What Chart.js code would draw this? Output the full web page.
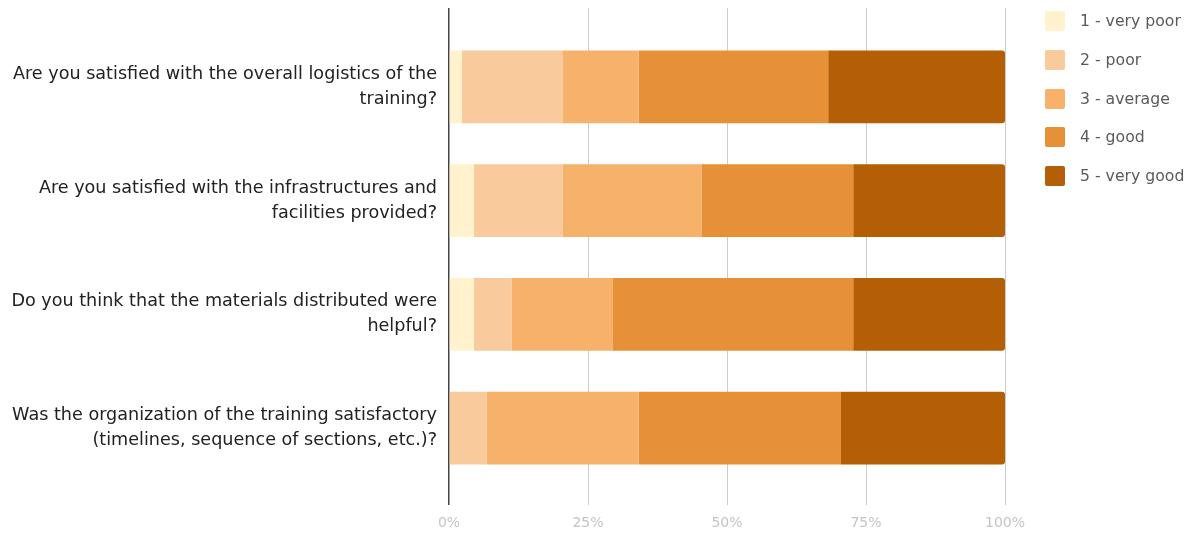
<!DOCTYPE html>
<html>
<head>
<meta charset="utf-8">
<script src="https://cdn.jsdelivr.net/npm/chart.js@4/dist/chart.umd.min.js"></script>
<style>
  html, body { margin: 0; padding: 0; background: #fff; }
  #wrap { position: relative; width: 1198px; height: 533px; }
  #legend { position: absolute; left: 1045px; top: 11px; font-family: "DejaVu Sans", sans-serif; font-size: 15.7px; color: #5a5a5a; }
  .item { position: relative; height: 38.8px; }
  .sw { position: absolute; left: 0; top: 0; width: 20px; height: 20px; border-radius: 2px; }
  .lbl { position: absolute; left: 35px; top: 0; line-height: 20px; white-space: nowrap; }
</style>
</head>
<body>
<div id="wrap">
  <canvas id="c" width="1198" height="533"></canvas>
  <div id="legend"></div>
</div>
<script>
const categories = [
  ["Are you satisfied with the overall logistics of the", "training?"],
  ["Are you satisfied with the infrastructures and", "facilities provided?"],
  ["Do you think that the materials distributed were", "helpful?"],
  ["Was the organization of the training satisfactory", "(timelines, sequence of sections, etc.)?"]
];
const seriesNames = ["1 - very poor", "2 - poor", "3 - average", "4 - good", "5 - very good"];
const veryPoor = [2.3, 4.5, 4.5, 0];
const poor     = [18.2, 15.9, 6.8, 6.8];
const average  = [13.6, 25.0, 18.2, 27.3];
const good     = [34.1, 27.3, 43.2, 36.4];
const veryGood = [31.8, 27.3, 27.3, 29.5];
const tickValues = [0, 25, 50, 75, 100];
const tickLabels = ["0%", "25%", "50%", "75%", "100%"];
const colors = ["#fff2cc", "#f9cb9c", "#f6b26b", "#e69138", "#b45f06"];

const seriesValues = [veryPoor, poor, average, good, veryGood];

const datasets = seriesValues.map((vals, i) => ({
  label: seriesNames[i],
  data: vals,
  backgroundColor: colors[i],
  borderWidth: 0,
  borderRadius: i === seriesValues.length - 1 ? 3 : 0,
  borderSkipped: 'start',
  barPercentage: 0.8,
  categoryPercentage: 0.8
}));

const gridColor = (ctx) => (ctx.tick && ctx.tick.value === 0) ? '#444444' : '#cccccc';
const gridWidth = (ctx) => (ctx.tick && ctx.tick.value === 0) ? 1.5 : 1;

new Chart(document.getElementById('c'), {
  type: 'bar',
  data: { labels: categories, datasets },
  options: {
    indexAxis: 'y',
    responsive: false,
    animation: false,
    layout: { padding: { top: 8, right: 193, bottom: 0, left: 0 } },
    plugins: { legend: { display: false }, tooltip: { enabled: false } },
    scales: {
      x: {
        stacked: true,
        min: 0, max: 100,
        afterBuildTicks: (s) => { s.ticks = tickValues.map(v => ({ value: v })); },
        ticks: {
          callback: (v) => tickLabels[tickValues.indexOf(v)],
          color: '#c4c4c4',
          font: { family: 'DejaVu Sans', size: 14 },
          padding: 10,
          maxRotation: 0
        },
        grid: { color: gridColor, lineWidth: gridWidth, tickLength: 20 },
        border: { display: false },
        afterFit: (s) => { s.height = 48; }
      },
      x2: {
        type: 'linear',
        position: 'top',
        min: 0, max: 100,
        afterBuildTicks: (s) => { s.ticks = tickValues.map(v => ({ value: v })); },
        ticks: { display: false },
        grid: { color: gridColor, lineWidth: gridWidth, drawOnChartArea: false, tickLength: 22 },
        border: { display: false },
        afterFit: (s) => { s.height = 22; }
      },
      y: {
        stacked: true,
        ticks: {
          color: '#222222',
          font: { family: 'DejaVu Sans', size: 17.6, lineHeight: 1.42 },
          padding: 12,
          autoSkip: false
        },
        grid: { display: false, drawTicks: false },
        border: { display: false },
        afterFit: (s) => { s.width = 449; s.paddingTop = 0; s.paddingBottom = 0; }
      }
    }
  }
});

const legend = document.getElementById('legend');
seriesNames.forEach((name, i) => {
  const it = document.createElement('div');
  it.className = 'item';
  const sw = document.createElement('div');
  sw.className = 'sw';
  sw.style.background = colors[i];
  const lb = document.createElement('div');
  lb.className = 'lbl';
  lb.textContent = name;
  it.appendChild(sw); it.appendChild(lb);
  legend.appendChild(it);
});
</script>
</body>
</html>
